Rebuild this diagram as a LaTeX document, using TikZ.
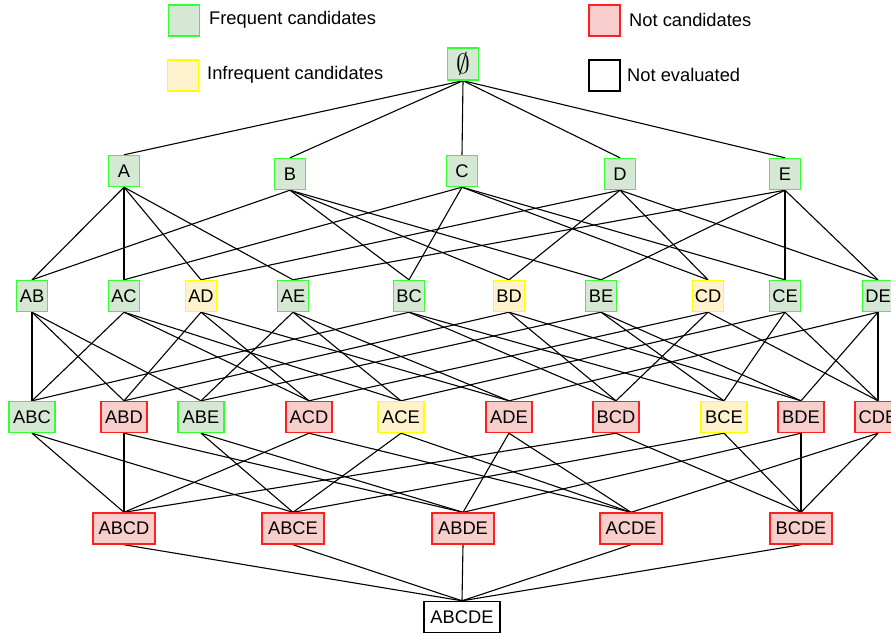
\documentclass[tikz,border=0pt]{standalone}
\usepackage{fontspec}
\usepackage{graphicx}
\setmainfont{Liberation Sans}
\usetikzlibrary{backgrounds}

\definecolor{freqfill}{HTML}{D5E8D4}
\definecolor{freqline}{HTML}{33FF33}
\definecolor{infreqfill}{HTML}{FFF2CC}
\definecolor{infreqline}{HTML}{FFFF00}
\definecolor{notfill}{HTML}{F8CECC}
\definecolor{notline}{HTML}{FF2020}

\tikzset{
  item/.style={draw, line width=1.4pt, inner sep=0pt, minimum height=31pt,
    font=\fontsize{18.3}{20}\selectfont},
  freq/.style={item, fill=freqfill, draw=freqline},
  infreq/.style={item, fill=infreqfill, draw=infreqline},
  notcand/.style={item, fill=notfill, draw=notline},
  noteval/.style={item, fill=white, draw=black},
  w1/.style={minimum width=31pt},
  w3/.style={minimum width=46pt},
  w4/.style={minimum width=62pt},
  w5/.style={minimum width=76pt},
  link/.style={line width=1.1pt, black},
  legtext/.style={anchor=west, inner sep=0pt, font=\fontsize{18.3}{20}\selectfont},
}

\begin{document}
\begin{tikzpicture}[x=1pt, y=-1pt]
\useasboundingbox (0,0) rectangle (891,633);

% legend
\node[freq, minimum width=31pt] (lgfreq) at (184,20.5) {};
\node[legtext] (lgfreqt) at (209,20) {Frequent candidates};
\node[infreq, minimum width=31pt] (lginf) at (183,75.5) {};
\node[legtext] (lginft) at (207,75) {Infrequent candidates};
\node[notcand, minimum width=31pt] (lgnot) at (604.5,20.5) {};
\node[legtext] (lgnott) at (629,20) {Not candidates};
\node[noteval, minimum width=31pt] (lgeval) at (604.5,75.5) {};
\node[legtext] (lgevalt) at (627,75) {Not evaluated};

% level 0
\node[freq, w1, minimum height=32pt] (E0) at (463,64) {\scalebox{1.6}{$\emptyset$}};

% level 1
\node[freq, w1] (A) at (124,171) {A};
\node[freq, w1] (B) at (290,174) {B};
\node[freq, w1] (C) at (462,171) {C};
\node[freq, w1] (D) at (620,174) {D};
\node[freq, w1] (E) at (785,174) {E};

% level 2
\node[freq, w1]   (AB) at (32,296)  {AB};
\node[freq, w1]   (AC) at (124,296) {AC};
\node[infreq, w1] (AD) at (201,296) {AD};
\node[freq, w1]   (AE) at (293,296) {AE};
\node[freq, w1]   (BC) at (409,296) {BC};
\node[infreq, w1] (BD) at (509,296) {BD};
\node[freq, w1]   (BE) at (601,296) {BE};
\node[infreq, w1] (CD) at (708,296) {CD};
\node[freq, w1]   (CE) at (785,296) {CE};
\node[freq, w1]   (DE) at (878,296) {DE};

% level 3
\node[freq, w3]    (ABC) at (32,417)  {ABC};
\node[notcand, w3] (ABD) at (124,417) {ABD};
\node[freq, w3]    (ABE) at (201,417) {ABE};
\node[notcand, w3] (ACD) at (309,417) {ACD};
\node[infreq, w3]  (ACE) at (401,417) {ACE};
\node[notcand, w3] (ADE) at (509,417) {ADE};
\node[notcand, w3] (BCD) at (616,417) {BCD};
\node[infreq, w3]  (BCE) at (724,417) {BCE};
\node[notcand, w3] (BDE) at (801,417) {BDE};
\node[notcand, w3] (CDE) at (878,417) {CDE};

% level 4
\node[notcand, w4] (ABCD) at (124,528.5) {ABCD};
\node[notcand, w4] (ABCE) at (293,528.5) {ABCE};
\node[notcand, w4] (ABDE) at (463,528.5) {ABDE};
\node[notcand, w4] (ACDE) at (631,528.5) {ACDE};
\node[notcand, w4] (BCDE) at (801,528.5) {BCDE};

% level 5
\node[noteval, w5] (ABCDE) at (462,617) {ABCDE};

% subset links
\begin{scope}[on background layer]
\foreach \p/\c in {E0/A, E0/B, E0/C, E0/D, E0/E,
  A/AB, A/AC, A/AD, A/AE, B/AB, B/BC, B/BD, B/BE,
  C/AC, C/BC, C/CD, C/CE, D/AD, D/BD, D/CD, D/DE,
  E/AE, E/BE, E/CE, E/DE,
  AB/ABC, AB/ABD, AB/ABE, AC/ABC, AC/ACD, AC/ACE,
  AD/ABD, AD/ACD, AD/ADE, AE/ABE, AE/ACE, AE/ADE,
  BC/ABC, BC/BCD, BC/BCE, BD/ABD, BD/BCD, BD/BDE,
  BE/ABE, BE/BCE, BE/BDE, CD/ACD, CD/BCD, CD/CDE,
  CE/ACE, CE/BCE, CE/CDE, DE/ADE, DE/BDE, DE/CDE,
  ABC/ABCD, ABC/ABCE, ABD/ABCD, ABD/ABDE, ABE/ABCE, ABE/ABDE,
  ACD/ABCD, ACD/ACDE, ACE/ABCE, ACE/ACDE, ADE/ABDE, ADE/ACDE,
  BCD/ABCD, BCD/BCDE, BCE/ABCE, BCE/BCDE, BDE/ABDE, BDE/BCDE,
  CDE/ACDE, CDE/BCDE,
  ABCD/ABCDE, ABCE/ABCDE, ABDE/ABCDE, ACDE/ABCDE, BCDE/ABCDE}
  \draw[link] (\p.south) -- (\c.north);
\end{scope}
\end{tikzpicture}
\end{document}
